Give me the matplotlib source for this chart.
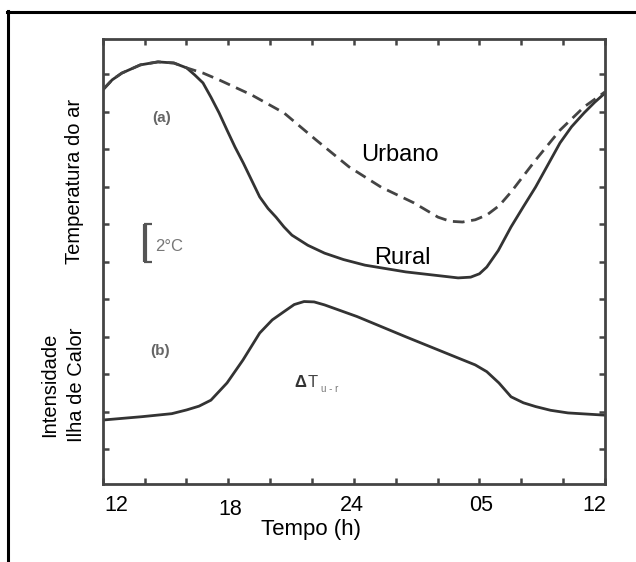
import matplotlib.pyplot as plt
from matplotlib.lines import Line2D
from matplotlib import transforms

plt.rcParams['font.family'] = ['Liberation Sans', 'DejaVu Sans']

# hours after 12h (0..24); y in tick units (1 tick = 2 degC)
hora_rural = [0, 0.45, 0.91, 1.8, 2.64, 3.4, 4.01, 4.4, 4.79, 5.17, 5.56, 5.94, 6.32,
              6.72, 7.11, 7.5, 7.9, 8.28, 8.66, 9.04, 9.8, 10.6, 11.5, 12.53, 14.48,
              16.98, 17.58, 18.0, 18.35, 18.9, 19.51, 20.1, 20.68, 21.85, 22.4,
              23.0, 23.5, 24]
temp_rural = [9.58, 9.85, 10.03, 10.25, 10.33, 10.3, 10.17, 9.98, 9.77, 9.39, 8.97, 8.51, 8.06,
              7.63, 7.18, 6.73, 6.42, 6.19, 5.93, 5.71, 5.44, 5.23, 5.06, 4.91, 4.73,
              4.57, 4.59, 4.68, 4.86, 5.3, 5.93, 6.47, 6.99, 8.17, 8.6,
              8.97, 9.25, 9.50]

hora_urbano = [0, 0.45, 0.91, 1.8, 2.64, 3.4, 4.01, 4.8, 5.56, 7.11, 8.66, 10.19, 11.77,
               13.30, 14.87, 16.02, 16.6, 17.19, 17.8, 18.36, 18.95, 19.51, 20.68,
               21.85, 23.0, 24]
temp_urbano = [9.58, 9.85, 10.03, 10.25, 10.33, 10.3, 10.17, 10.03, 9.85, 9.45, 8.97, 8.25, 7.53,
               6.99, 6.57, 6.19, 6.08, 6.06, 6.12, 6.25, 6.5, 6.86, 7.71,
               8.51, 9.13, 9.53]

hora_ilha = [0, 1.88, 3.3, 4.01, 4.6, 5.17, 5.94, 6.70, 7.50, 8.1, 8.66, 9.15, 9.62,
             10.1, 10.60, 12.15, 14.48, 17.0, 17.8, 18.35, 18.93, 19.51, 20.1,
             20.68, 21.4, 22.23, 24]
delta_t = [0.78, 0.87, 0.95, 1.05, 1.15, 1.31, 1.77, 2.38, 3.10, 3.45, 3.67, 3.86, 3.94,
           3.93, 3.85, 3.54, 3.00, 2.43, 2.25, 2.07, 1.77, 1.40, 1.24,
           1.14, 1.04, 0.97, 0.91]

rotulos_x = ['12', '18', '24', '05', '12']
pos_rotulos_x = [0.64, 6.08, 11.91, 18.07, 23.47]
ticks_menores = list(range(0, 25, 2))
ticks_y = list(range(0, 11))

fig = plt.figure(figsize=(6.36, 5.62), dpi=100)
ax = fig.add_axes([0.1615, 0.1388, 0.7898, 0.7918])

cor = '#333333'
ax.plot(hora_rural, temp_rural, color=cor, lw=2)
ax.plot(hora_urbano, temp_urbano, color='#444444', lw=2, dashes=(4.2, 2.4))
ax.plot(hora_ilha, delta_t, color=cor, lw=2)

ax.set_xlim(0, 24)
ax.set_ylim(-0.925, 10.94)

ax.set_xticks(pos_rotulos_x)
ax.set_xticklabels(rotulos_x, fontsize=15.5)
ax.set_xticks(ticks_menores, minor=True)
ax.set_yticks(ticks_y)
ax.set_yticklabels([])
ax.tick_params(axis='x', which='major', length=0, pad=8)
ax.tick_params(which='both', direction='in', top=True, right=True,
               color='#444444', width=1.8)
ax.tick_params(axis='x', which='minor', length=4)
ax.tick_params(axis='y', length=4)
# "18" sits a little lower in the original
lbl18 = ax.get_xticklabels()[1]
lbl18.set_transform(lbl18.get_transform() +
                    transforms.ScaledTranslation(0, -3 / 72, fig.dpi_scale_trans))

for s in ax.spines.values():
    s.set_color('#444444')
    s.set_linewidth(2)

# annotations
ax.text(2.83, 8.83, '(a)', fontsize=11, color='#666666', fontweight='bold',
        ha='center', va='center')
ax.text(14.2, 7.85, 'Urbano', fontsize=17, ha='center', va='center')
ax.text(14.3, 5.1, 'Rural', fontsize=17, ha='center', va='center')
ax.text(2.75, 2.63, '(b)', fontsize=11, color='#666666', fontweight='bold',
        ha='center', va='center')
ax.text(9.14, 1.79, '\u0394', fontsize=12, color='#333333', fontweight='bold',
        ha='left', va='center')
ax.text(9.8, 1.79, 'T', fontsize=12, color='#444444', ha='left', va='center')
ax.text(10.45, 1.62, 'u - r', fontsize=7, color='#777777', ha='left', va='center')
ax.text(2.5, 5.41, '2°C', fontsize=12, color='#777777', ha='left', va='center')

# 2 degC bracket (one tick interval)
ax.plot([2.0, 2.0], [4.99, 6.0], color='#555555', lw=3, solid_capstyle='butt')
ax.plot([1.95, 2.35], [6.0, 6.0], color='#555555', lw=1.6, solid_capstyle='butt')
ax.plot([1.95, 2.35], [4.99, 4.99], color='#555555', lw=1.6, solid_capstyle='butt')

# axis labels
fig.text(311 / 636, 1 - 529 / 562, 'Tempo (h)', fontsize=16, ha='center', va='center')
fig.text(74 / 636, 1 - 181 / 562, 'Temperatura do ar', fontsize=14.5,
         rotation=90, ha='center', va='center')
fig.text(63 / 636, 1 - 385 / 562, 'Intensidade\nIlha de Calor', fontsize=14.5,
         rotation=90, ha='center', va='center', linespacing=1.55,
         multialignment='center')

# outer frame (left and top only)
fig.add_artist(Line2D([7.5 / 636, 7.5 / 636], [0, 1 - 11 / 562], color='black', lw=2.2))
fig.add_artist(Line2D([6.5 / 636, 1], [1 - 11.5 / 562, 1 - 11.5 / 562], color='black', lw=2.2))

fig.savefig('out.png', dpi=100)
